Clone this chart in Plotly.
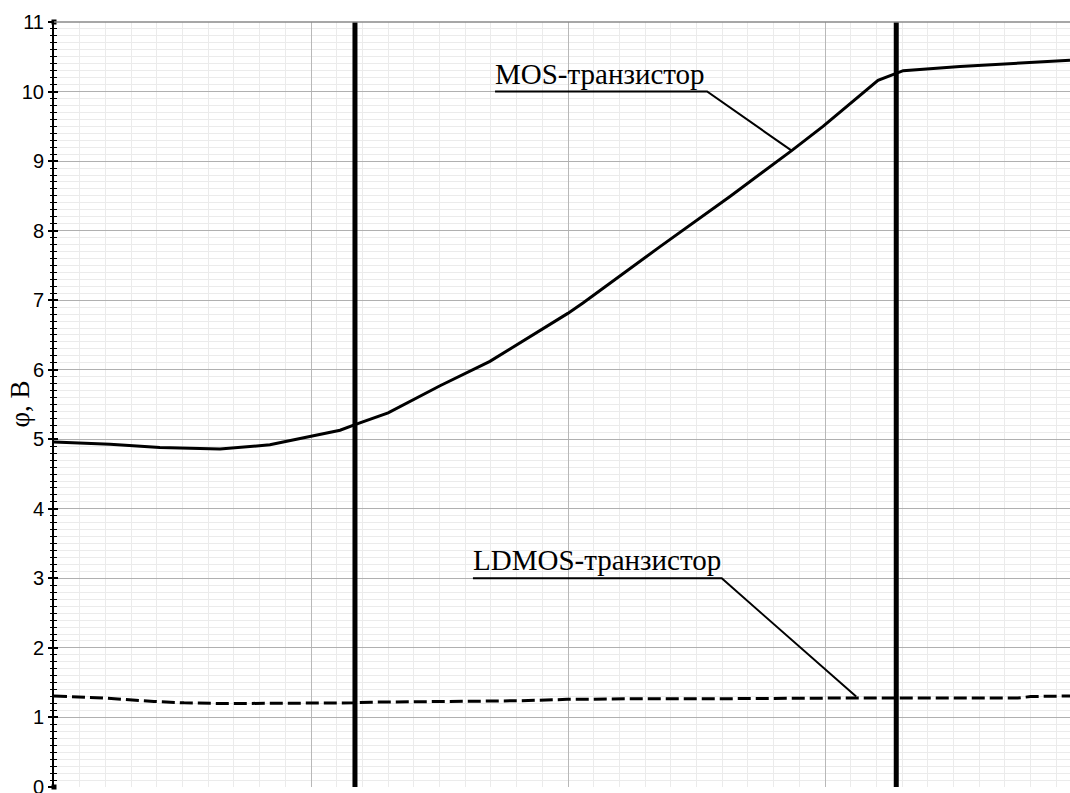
import plotly.graph_objects as go

# ---- data (x in major-grid units, y in volts) ----
mos_x = [0.0, 0.082, 0.218, 0.412, 0.646, 0.840, 0.879, 0.996, 1.113, 1.171, 1.300,
         1.502, 1.696, 1.999, 2.058, 2.358, 2.475, 2.630, 2.870, 2.992, 3.206, 3.280,
         3.304, 3.525, 3.953]
mos_y = [4.96, 4.95, 4.93, 4.88, 4.86, 4.92, 4.95, 5.04, 5.13, 5.21, 5.38,
         5.77, 6.12, 6.81, 6.96, 7.77, 8.08, 8.49, 9.15, 9.50, 10.16, 10.27,
         10.30, 10.36, 10.45]

ldmos_x = [0.0, 0.195, 0.389, 0.506, 0.650, 0.844, 0.883, 1.169, 1.233, 1.500,
           1.813, 1.996, 2.292, 2.620, 3.110, 3.750, 3.800, 3.953]
ldmos_y = [1.31, 1.28, 1.23, 1.21, 1.20, 1.20, 1.21, 1.21, 1.22, 1.23,
           1.24, 1.26, 1.27, 1.27, 1.28, 1.28, 1.30, 1.31]

boundaries_x = [1.171, 3.277]
y_range = [0, 11]
x_range = [0, 3.953]

mos_label = "MOS-транзистор"
mos_callout_x = [1.716, 2.541, 2.870]
mos_callout_y = [10.0, 10.0, 9.15]

ldmos_label = "LDMOS-транзистор"
ldmos_callout_x = [1.630, 2.598, 3.121]
ldmos_callout_y = [3.0, 3.0, 1.30]

y_title = "φ, В"

serif = "Liberation Serif, Times New Roman, serif"
sans = "Liberation Sans, Arial, sans-serif"

fig = go.Figure()

# boundary lines
for bx in boundaries_x:
    fig.add_trace(go.Scatter(x=[bx, bx], y=y_range, mode="lines",
                             line=dict(color="black", width=5),
                             showlegend=False, hoverinfo="skip"))

fig.add_trace(go.Scatter(x=mos_x, y=mos_y, mode="lines",
                         line=dict(color="black", width=3),
                         name="MOS", showlegend=False))
fig.add_trace(go.Scatter(x=ldmos_x, y=ldmos_y, mode="lines",
                         line=dict(color="black", width=3, dash="13px,5px"),
                         name="LDMOS", showlegend=False))

# callout lines
fig.add_trace(go.Scatter(x=mos_callout_x, y=mos_callout_y, mode="lines",
                         line=dict(color="black", width=2),
                         showlegend=False, hoverinfo="skip"))
fig.add_trace(go.Scatter(x=ldmos_callout_x, y=ldmos_callout_y, mode="lines",
                         line=dict(color="black", width=2),
                         showlegend=False, hoverinfo="skip"))

# end markers on the y axis + second axis for crossing ticks
fig.add_trace(go.Scatter(x=[0, 0], y=y_range, mode="markers", yaxis="y2",
                         marker=dict(symbol="square", size=5, color="black"),
                         cliponaxis=False, showlegend=False, hoverinfo="skip"))

fig.add_annotation(x=mos_callout_x[0], y=mos_callout_y[0], text=mos_label,
                   showarrow=False, xanchor="left", yanchor="bottom",
                   font=dict(family=serif, size=29, color="black"), xshift=-2)
fig.add_annotation(x=ldmos_callout_x[0], y=ldmos_callout_y[0], text=ldmos_label,
                   showarrow=False, xanchor="left", yanchor="bottom",
                   font=dict(family=serif, size=29, color="black"), xshift=-2)
fig.add_annotation(xref="paper", yref="paper", x=0, y=0.5, xshift=-35,
                   text=y_title, textangle=-90, showarrow=False,
                   xanchor="center", yanchor="middle",
                   font=dict(family=serif, size=27, color="black"))

fig.add_shape(type="line", xref="paper", yref="paper", x0=0, x1=1, y0=1, y1=1,
              line=dict(color="#8a8a8a", width=1.5))

fig.update_layout(
    width=1070, height=793,
    margin=dict(l=54, r=0, t=22, b=6, autoexpand=False),
    paper_bgcolor="white", plot_bgcolor="white",
    xaxis=dict(range=x_range, tick0=0, dtick=1, showticklabels=False, ticks="",
               showgrid=True, gridcolor="#b8b8b8", gridwidth=1, zeroline=False,
               showline=False, automargin=False,
               minor=dict(dtick=0.1, showgrid=True, gridcolor="#ebebeb", gridwidth=1)),
    yaxis=dict(range=y_range, tick0=0, dtick=1, showgrid=True, gridcolor="#b0b0b0",
               gridwidth=1, zeroline=False, showline=True, linecolor="black", linewidth=2,
               ticks="outside", ticklen=4, tickwidth=1.5, tickcolor="black",
               ticklabeloverflow="allow", automargin=False,
               tickfont=dict(family=sans, size=20, color="black"),
               minor=dict(dtick=0.1, showgrid=True, gridcolor="#ebebeb", ticks="outside",
                          ticklen=2, tickwidth=1, tickcolor="black")),
    yaxis2=dict(range=y_range, overlaying="y", side="left", anchor="x", tick0=0, dtick=1,
                showgrid=False, zeroline=False, showticklabels=False, automargin=False,
                ticks="inside", ticklen=4, tickwidth=1.5, tickcolor="black",
                minor=dict(dtick=0.1, ticks="inside", ticklen=3, tickwidth=1,
                           tickcolor="black", showgrid=False)),
)

fig.write_html("out.html", config={"displayModeBar": False},
               post_script="document.body.style.margin='0px';document.body.style.overflow='hidden';")
